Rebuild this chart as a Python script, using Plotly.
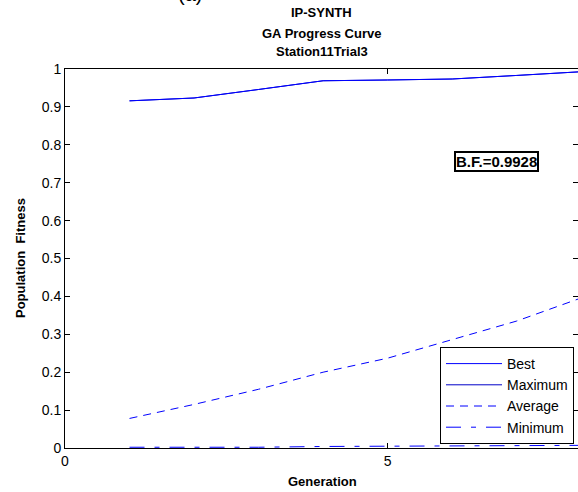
import plotly.graph_objects as go

generations = [1, 2, 3, 4, 5, 6, 7, 8]
best = [0.916, 0.9235, 0.946, 0.969, 0.971, 0.9736, 0.983, 0.9928]
maximum = [0.916, 0.9235, 0.946, 0.969, 0.971, 0.9736, 0.983, 0.9928]
average = [0.078, 0.115, 0.155, 0.200, 0.237, 0.285, 0.335, 0.396]
minimum = [0.002, 0.002, 0.002, 0.004, 0.005, 0.006, 0.006, 0.007]

x_ticks = [0, 5]
y_ticks = [0, 0.1, 0.2, 0.3, 0.4, 0.5, 0.6, 0.7, 0.8, 0.9, 1.0]
y_tick_text = ["0", "0.1", "0.2", "0.3", "0.4", "0.5", "0.6", "0.7", "0.8", "0.9", "1"]
title_lines = ["IP-SYNTH", "GA Progress Curve", "Station11Trial3"]
best_fitness_label = "B.F.=0.9928"

FONT = "Arial, 'Liberation Sans', sans-serif"
W, H = 578, 492
L, R, T, B = 65, 0, 69, 44
PW, PH = W - L - R, H - T - B

def px_y(ypix):
    return (H - B - ypix) / PH

def px_x(xpix):
    return (xpix - L) / PW

fig = go.Figure()
fig.add_trace(go.Scatter(x=generations, y=maximum, name="Maximum", mode="lines",
                         line=dict(color="#0000c8", width=1), legendrank=2))
fig.add_trace(go.Scatter(x=generations, y=best, name="Best", mode="lines",
                         line=dict(color="#0000ff", width=1), legendrank=1))
fig.add_trace(go.Scatter(x=generations, y=average, name="Average", mode="lines",
                         line=dict(color="#0000ff", width=1, dash="8px,6px"), legendrank=3))
fig.add_trace(go.Scatter(x=generations, y=minimum, name="Minimum", mode="lines",
                         line=dict(color="#0000ff", width=1, dash="15px,10px,5px,10px"), legendrank=4))

annotations = []
for i, (line, ypix) in enumerate(zip(title_lines, [13, 33, 52])):
    annotations.append(dict(text="<b>%s</b>" % line, xref="paper", yref="paper",
                            x=0.5, y=px_y(ypix), xanchor="center", yanchor="middle",
                            showarrow=False, font=dict(family=FONT, size=13, color="black")))
annotations.append(dict(text="(a)", xref="paper", yref="paper", x=px_x(190), y=px_y(-6),
                        xanchor="center", yanchor="middle", showarrow=False,
                        font=dict(family=FONT, size=20, color="black")))
annotations.append(dict(text="<b>Population  Fitness</b>", xref="paper", yref="paper",
                        x=px_x(20), y=px_y(258), xanchor="center", yanchor="middle",
                        textangle=-90, showarrow=False,
                        font=dict(family=FONT, size=13, color="black")))
annotations.append(dict(text="<b>Generation</b>", xref="paper", yref="paper",
                        x=px_x(322), y=px_y(481), xanchor="center", yanchor="middle",
                        showarrow=False, font=dict(family=FONT, size=13, color="black")))
annotations.append(dict(text="<b>%s</b>" % best_fitness_label, xref="paper", yref="paper",
                        x=px_x(496), y=px_y(161), xanchor="center", yanchor="middle",
                        showarrow=False, bordercolor="black", borderwidth=2, borderpad=0,
                        bgcolor="white",
                        font=dict(family=FONT, size=15, color="black")))

fig.update_layout(
    width=W, height=H,
    margin=dict(l=L, r=R, t=T, b=B),
    paper_bgcolor="white", plot_bgcolor="white",
    font=dict(family=FONT, size=14, color="black"),
    showlegend=True,
    legend=dict(x=px_x(574), y=px_y(347), xanchor="right", yanchor="top",
                bgcolor="white", bordercolor="black", borderwidth=1,
                font=dict(family=FONT, size=14, color="black"),
                tracegroupgap=0, itemwidth=56),
    annotations=annotations,
)
fig.update_xaxes(range=[0, 7.95], tickvals=x_ticks, ticktext=[str(v) for v in x_ticks],
                 showgrid=False, zeroline=False, showline=True, linecolor="black",
                 linewidth=1, mirror="ticks", ticks="inside", ticklen=5,
                 tickcolor="black", tickfont=dict(family=FONT, size=14))
fig.update_yaxes(range=[0, 1], tickvals=y_ticks, ticktext=y_tick_text,
                 showgrid=False, zeroline=False, showline=True, linecolor="black",
                 linewidth=1, mirror="ticks", ticks="inside", ticklen=5,
                 tickcolor="black", tickfont=dict(family=FONT, size=14))

fig.write_html("out.html", config={"displayModeBar": False},
               post_script="document.body.style.margin='0';document.body.style.padding='0';"
                           "document.body.style.overflow='hidden';")
